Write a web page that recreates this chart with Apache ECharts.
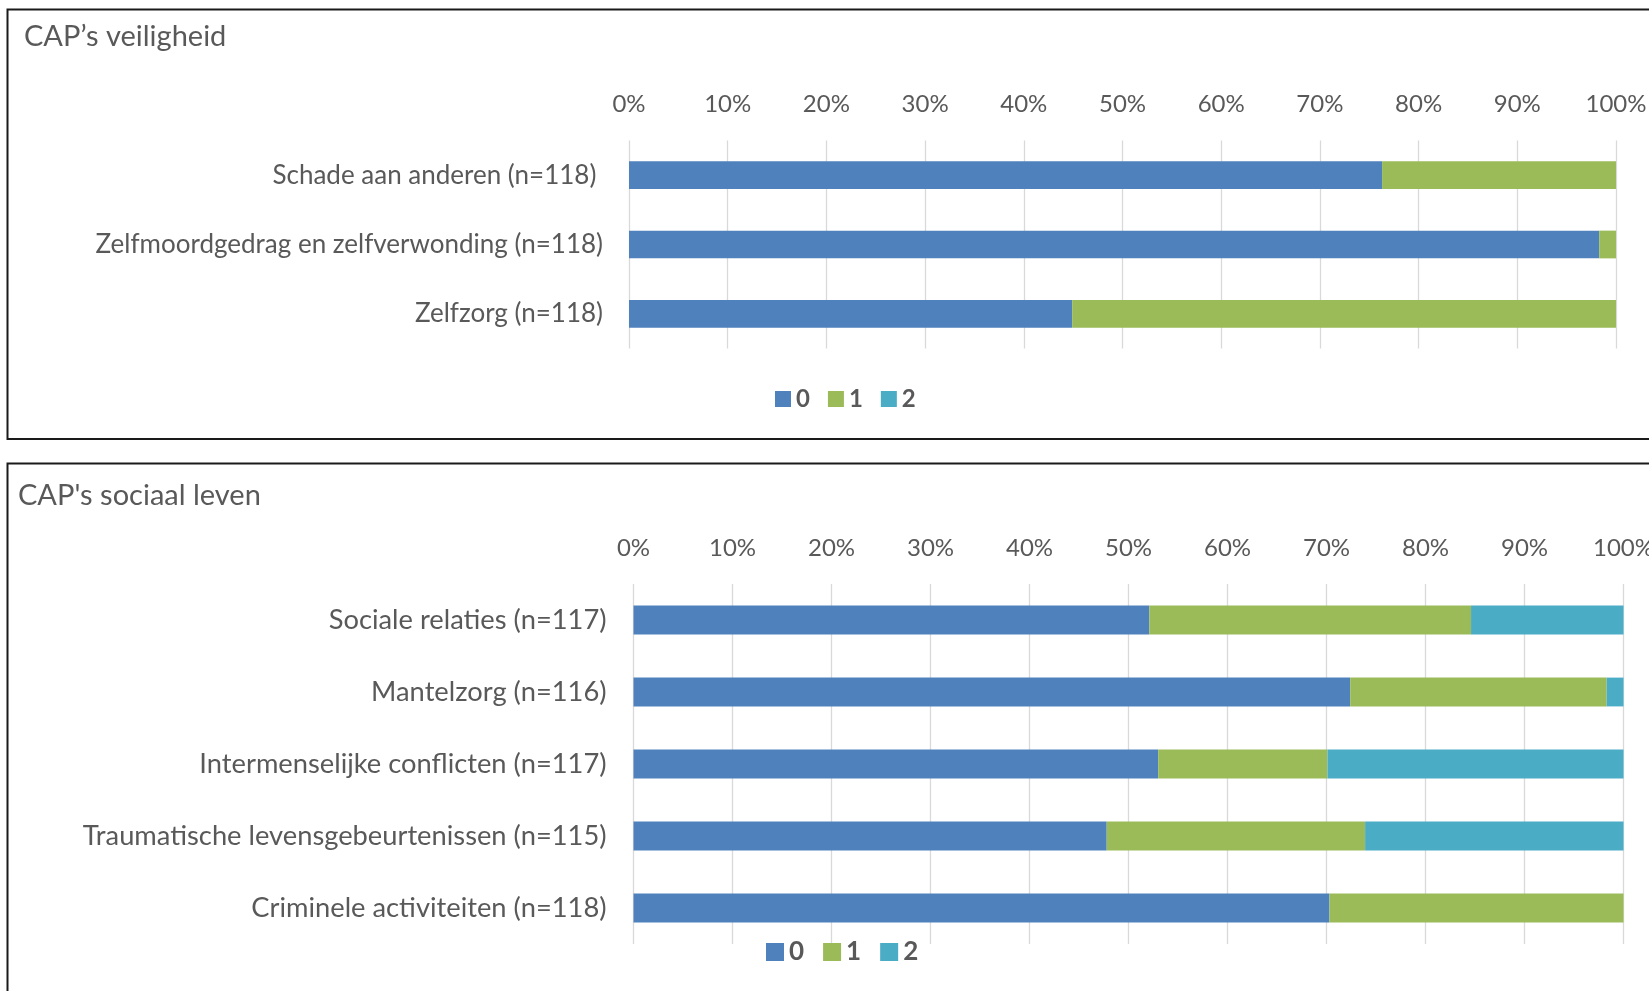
<!DOCTYPE html>
<html>
<head>
<meta charset="utf-8">
<script src="https://cdn.jsdelivr.net/npm/echarts@6/dist/echarts.min.js"></script>
<style>
  html, body { margin: 0; padding: 0; background: #fff; }
  #chart { width: 1649px; height: 991px; }
</style>
</head>
<body>
<div id="chart"></div>
<script>
// Panel 1: veiligheid
const safetyTitle = 'CAP’s veiligheid';
const safetyCategories = [
  'Schade aan anderen (n=118) ',
  'Zelfmoordgedrag en zelfverwonding (n=118)',
  'Zelfzorg (n=118)'
];
const safetyScore0 = [76.3, 98.3, 44.9];
const safetyScore1 = [23.7, 1.7, 55.1];
const safetyScore2 = [0, 0, 0];

// Panel 2: sociaal leven
const socialTitle = "CAP's sociaal leven";
const socialCategories = [
  'Sociale relaties (n=117)',
  'Mantelzorg (n=116)',
  'Intermenselijke conflicten (n=117)',
  'Traumatische levensgebeurtenissen (n=115)',
  'Criminele activiteiten (n=118)'
];
const socialScore0 = [52.1, 72.4, 53.0, 47.8, 70.3];
const socialScore1 = [32.5, 25.9, 17.1, 26.1, 29.7];
const socialScore2 = [15.4, 1.7, 29.9, 26.1, 0];

const scoreNames = ['0', '1', '2'];
const axisMin = 0, axisMax = 100, axisStep = 10;
const tickSuffix = '%';

const COLORS = ['#4F81BD', '#9BBB59', '#4BACC6'];
const TEXT = '#595959';
const FONT = 'Lato, "Open Sans", sans-serif';

const chart = echarts.init(document.getElementById('chart'), null, { renderer: 'canvas' });

function xAxisFor(gridIndex, size) {
  return {
    gridIndex, type: 'value', position: 'top',
    min: axisMin, max: axisMax, interval: axisStep,
    axisLine: { show: false }, axisTick: { show: false },
    axisLabel: { formatter: v => v + tickSuffix, color: TEXT, fontFamily: FONT, fontSize: size, margin: 24 },
    splitLine: { show: true, lineStyle: { color: '#D9D9D9', width: 1.3 } }
  };
}
function yAxisFor(gridIndex, cats, margin, size) {
  return {
    gridIndex, type: 'category', data: cats, inverse: true,
    axisLine: { show: false }, axisTick: { show: false },
    axisLabel: { color: TEXT, fontFamily: FONT, fontSize: size, margin }
  };
}
function barSeries(idx, name, data, colorIdx) {
  return {
    type: 'bar', name, data, stack: 'panel' + idx,
    xAxisIndex: idx, yAxisIndex: idx,
    barWidth: '40%',
    itemStyle: { color: COLORS[colorIdx] },
    emphasis: { disabled: true }
  };
}

const titleStyle = { color: TEXT, fontFamily: FONT, fontSize: 29, fontWeight: 'normal', lineHeight: 30 };

chart.setOption({
  animation: false,
  color: COLORS,
  title: [
    { text: safetyTitle, left: 24, top: 22, padding: 0, textStyle: titleStyle },
    { text: socialTitle, left: 18, top: 481, padding: 0, textStyle: titleStyle }
  ],
  legend: [
    { data: scoreNames, left: 775, top: 387, padding: 0, icon: 'rect',
      itemWidth: 16, itemHeight: 16, itemGap: 18,
      textStyle: { color: TEXT, fontFamily: FONT, fontSize: 24, fontWeight: 'bold', lineHeight: 24 } },
    { data: scoreNames, left: 766, top: 939, padding: 0, icon: 'rect',
      itemWidth: 18, itemHeight: 18, itemGap: 19,
      textStyle: { color: TEXT, fontFamily: FONT, fontSize: 26, fontWeight: 'bold', lineHeight: 26 } }
  ],
  grid: [
    { left: 629, width: 987, top: 140.5, height: 208, containLabel: false, outerBoundsMode: 'none' },
    { left: 633.5, width: 990, top: 584, height: 360, containLabel: false, outerBoundsMode: 'none' }
  ],
  xAxis: [xAxisFor(0, 24), xAxisFor(1, 24)],
  yAxis: [yAxisFor(0, safetyCategories, 26, 26), yAxisFor(1, socialCategories, 27, 27.3)],
  series: [
    barSeries(0, scoreNames[0], safetyScore0, 0),
    barSeries(0, scoreNames[1], safetyScore1, 1),
    barSeries(0, scoreNames[2], safetyScore2, 2),
    barSeries(1, scoreNames[0], socialScore0, 0),
    barSeries(1, scoreNames[1], socialScore1, 1),
    barSeries(1, scoreNames[2], socialScore2, 2)
  ],
  graphic: [
    { type: 'rect', silent: true, z: 100,
      shape: { x: 7.5, y: 9.5, width: 1700, height: 429.5 },
      style: { fill: null, stroke: '#1a1a1a', lineWidth: 2 } },
    { type: 'rect', silent: true, z: 100,
      shape: { x: 7.5, y: 463.5, width: 1700, height: 600 },
      style: { fill: null, stroke: '#1a1a1a', lineWidth: 2 } }
  ]
});
</script>
</body>
</html>
